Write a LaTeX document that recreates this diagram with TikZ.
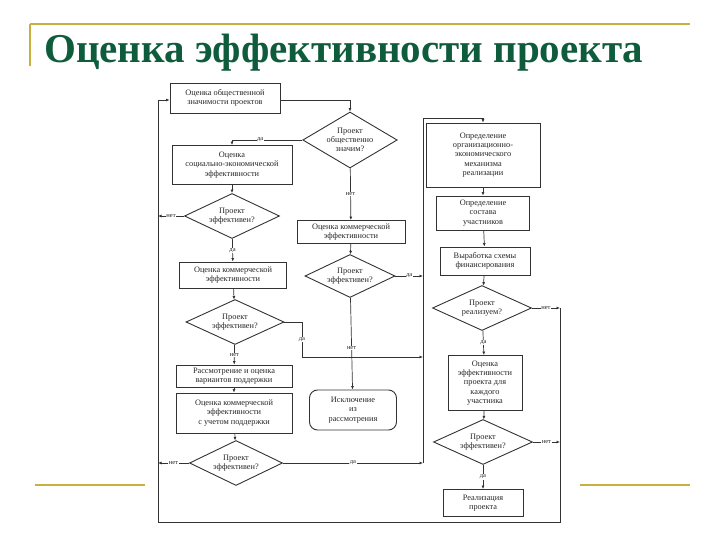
\documentclass[tikz,border=0pt]{standalone}
\usepackage{fontspec}
\setmainfont{Liberation Serif}
\usetikzlibrary{shapes.geometric,arrows.meta}
\definecolor{gold}{HTML}{C8B040}
\definecolor{ttl}{HTML}{0E5C3C}
\begin{document}
\begin{tikzpicture}[x=1pt,y=-1pt,
  every node/.style={font=\fontsize{8.3}{9.2}\selectfont,align=center,text=black!85},
  box/.style={draw=black!80,line width=0.9pt,inner sep=1pt},
  dia/.style={draw=black!80,line width=0.9pt,diamond,aspect=2,inner sep=0pt},
  ln/.style={draw=black!80,line width=0.7pt},
  ar/.style={ln,-{Latex[length=3.5pt,width=3pt]}},
  lab/.style={font=\fontsize{6.5}{7}\selectfont,fill=white,inner sep=0.5pt}]
\useasboundingbox (0,0) rectangle (720,540);
% frame
\draw[gold,line width=1.5pt] (30,24) -- (690,24);
\draw[gold,line width=1.5pt] (30,24) -- (30,66);
\draw[gold,line width=2.5pt] (35,485) -- (145,485);
\draw[gold,line width=2.5pt] (580,485) -- (690,485);
\node[font=\fontsize{41}{44}\selectfont\bfseries,text=ttl,anchor=base west,inner sep=0] (title) at (44,63) {Оценка эффективности проекта};
% nodes
\node[box,minimum width=110pt,minimum height=30pt] (A) at (225,98) {Оценка общественной\\значимости проектов};
\node[dia,minimum width=90pt,minimum height=56pt] (D1) at (350,140) {Проект\\общественно\\значим?};
\node[box,minimum width=120pt,minimum height=39pt] (B) at (232,165) {Оценка\\социально-экономической\\эффективности};
\node[dia,minimum width=95pt,minimum height=45pt] (D2) at (232,216) {Проект\\эффективен?};
\node[box,minimum width=107pt,minimum height=26pt] (C) at (233,275) {Оценка коммерческой\\эффективности};
\node[dia,minimum width=98pt,minimum height=45pt] (D3) at (235,322) {Проект\\эффективен?};
\node[box,minimum width=116pt,minimum height=22pt] (E) at (234,376) {Рассмотрение и оценка\\вариантов поддержки};
\node[box,minimum width=116pt,minimum height=40pt] (F) at (234,413) {Оценка коммерческой\\эффективности\\с учетом поддержки};
\node[dia,minimum width=93pt,minimum height=45pt] (D4) at (236,463) {Проект\\эффективен?};
\node[box,minimum width=108pt,minimum height=23pt] (G) at (351,232) {Оценка коммерческой\\эффективности};
\node[dia,minimum width=90pt,minimum height=43pt] (D5) at (350,276) {Проект\\эффективен?};
\node[box,rounded corners=8pt,minimum width=87pt,minimum height=40pt] (H) at (353,410) {Исключение\\из\\рассмотрения};
\node[box,minimum width=114pt,minimum height=64pt] (I) at (483,155) {Определение\\организационно-\\экономического\\механизма\\реализации};
\node[box,minimum width=93pt,minimum height=34pt] (J) at (483,213) {Определение\\состава\\участников};
\node[box,minimum width=90pt,minimum height=28pt] (K) at (485,261) {Выработка схемы\\финансирования};
\node[dia,minimum width=99pt,minimum height=45pt] (D6) at (482,308) {Проект\\реализуем?};
\node[box,minimum width=74pt,minimum height=55pt] (L) at (485,383) {Оценка\\эффективности\\проекта для\\каждого\\участника};
\node[dia,minimum width=99pt,minimum height=45pt] (D7) at (483,442) {Проект\\эффективен?};
\node[box,minimum width=80pt,minimum height=27pt] (M) at (483,503) {Реализация\\проекта};
% coordinates
\coordinate (TL) at (158,100);
\coordinate (BL) at (158,522);
\coordinate (BR) at (560,522);
\coordinate (RT) at (560,308);
\coordinate (CT) at (423,118);
\coordinate (CB) at (423,463);
% connectors
\draw[ar] (A.east |- 0,100) -| (D1.north);
\draw[ar] (D1.west) -| node[lab,pos=0.3]{да} (B.north);
\draw[ar] (B) -- (D2);
\draw[ar] (D2) -- node[lab]{да} (C);
\draw[ar] (C) -- (D3);
\draw[ar] (D3) -- node[lab]{нет} (E);
\draw[ar] (E) -- (F);
\draw[ar] (F) -- (D4);
\draw[ar] (D1) -- node[lab]{нет} (G);
\draw[ar] (G) -- (D5);
\draw[ar] (D5) -- node[lab,pos=0.55]{нет} (H);
\draw[ar] (D3.east) -| (302,357) node[lab,pos=0.75]{да} -- (423,357);
\draw[ar] (D5.east) -- node[lab]{да} (D5.east -| CT);
\draw[ar] (D4.east) -- node[lab]{да} (CB);
\draw[ln] (CB) -- (CT);
\draw[ar] (CT) -| (I.north);
\draw[ar] (I) -- (J);
\draw[ar] (J) -- (K);
\draw[ar] (K) -- (D6);
\draw[ar] (D6) -- node[lab]{да} (L);
\draw[ar] (L) -- (D7);
\draw[ar] (D7) -- node[lab]{да} (M);
\draw[ar] (D6.east) -- node[lab]{нет} (D6.east -| RT);
\draw[ar] (D7.east) -- node[lab]{нет} (D7.east -| RT);
\draw[ar] (D2.west) -- node[lab]{нет} (D2.west -| TL);
\draw[ar] (D4.west) -- node[lab]{нет} (D4.west -| TL);
\draw[ar] (RT) -- (BR) -- (BL) -- (TL) -- (A.west |- TL);
\end{tikzpicture}
\end{document}
